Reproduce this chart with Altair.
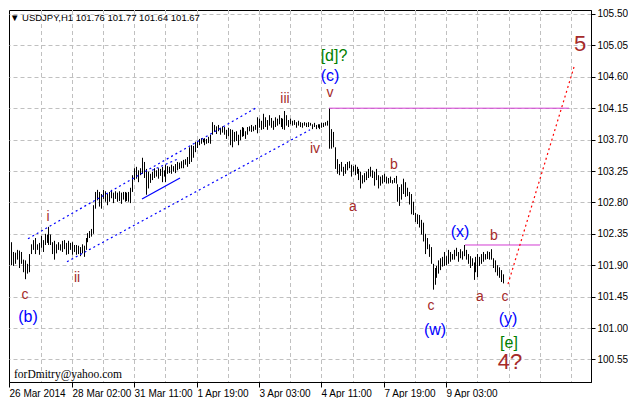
import altair as alt
import pandas as pd

# ---- hourly bars (high / low) ----
highs = [
    102.35, 102.23, 102.09, 102.08, 102.12, 102.11, 102.09, 101.98, 101.97, 101.92,
    102.06, 102.20, 102.26, 102.29, 102.20, 102.22, 102.32, 102.26, 102.35, 102.34,
    102.45, 102.34, 102.23, 102.25, 102.20, 102.23, 102.20, 102.25, 102.26, 102.22,
    102.25, 102.22, 102.23, 102.19, 102.19, 102.18, 102.16, 102.20, 102.18, 102.29,
    102.36, 102.39, 102.42, 102.76, 102.95, 102.98, 102.95, 102.92, 102.98, 102.96,
    102.92, 102.95, 102.98, 102.94, 102.96, 102.94, 102.96, 102.94, 102.95, 102.95,
    102.94, 102.95, 103.01, 103.19, 103.29, 103.31, 103.26, 103.29, 103.44, 103.38,
    103.28, 103.24, 103.21, 103.24, 103.29, 103.26, 103.29, 103.28, 103.31, 103.26,
    103.34, 103.32, 103.31, 103.34, 103.32, 103.35, 103.38, 103.37, 103.39, 103.41,
    103.42, 103.45, 103.59, 103.62, 103.61, 103.67, 103.67, 103.71, 103.72, 103.71,
    103.72, 103.71, 103.74, 103.77, 103.95, 103.91, 103.89, 103.91, 103.87, 103.89,
    103.88, 103.84, 103.87, 103.85, 103.84, 103.81, 103.82, 103.77, 103.84, 103.88,
    103.87, 103.82, 103.88, 103.89, 103.91, 103.89, 103.91, 104.02, 104.00, 103.97,
    104.07, 104.02, 103.98, 104.05, 104.01, 103.97, 104.02, 104.00, 104.05, 104.01,
    104.00, 104.11, 104.05, 103.98, 104.00, 103.97, 103.98, 103.95, 103.97, 103.95,
    103.94, 103.95, 103.94, 103.95, 103.94, 103.92, 103.94, 103.91, 103.92, 103.92,
    103.94, 103.94, 103.95, 103.97, 104.15, 103.85, 103.81, 103.59, 103.42, 103.35,
    103.38, 103.31, 103.35, 103.38, 103.39, 103.34, 103.32, 103.34, 103.31, 103.28,
    103.24, 103.19, 103.22, 103.24, 103.28, 103.31, 103.26, 103.24, 103.28, 103.19,
    103.17, 103.19, 103.21, 103.17, 103.15, 103.17, 103.12, 103.15, 103.18, 103.06,
    103.02, 103.06, 103.14, 103.09, 103.01, 102.95, 102.92, 102.81, 102.65, 102.63,
    102.62, 102.55, 102.51, 102.35, 102.29, 102.20, 102.16, 101.92, 101.86, 101.89,
    101.97, 102.00, 102.02, 102.09, 102.03, 102.12, 102.09, 102.06, 102.12, 102.15,
    102.09, 102.13, 102.10, 102.19, 102.12, 102.06, 102.03, 102.00, 101.94, 102.02,
    102.06, 102.02, 102.06, 102.09, 102.06, 102.10, 102.09, 102.13, 102.00, 101.97,
    101.90, 101.87, 101.83, 101.77,
]
lows = [
    101.92, 101.90, 101.89, 101.92, 101.98, 101.86, 101.92, 101.80, 101.70, 101.78,
    101.80, 102.06, 102.12, 102.06, 102.12, 102.05, 102.15, 102.09, 102.19, 102.22,
    102.19, 102.19, 102.06, 101.98, 102.07, 102.12, 102.11, 102.09, 102.13, 102.05,
    102.06, 102.12, 102.05, 102.09, 102.05, 102.06, 102.03, 102.07, 102.02, 102.12,
    102.23, 102.29, 102.31, 102.35, 102.71, 102.83, 102.74, 102.71, 102.85, 102.81,
    102.76, 102.81, 102.86, 102.79, 102.85, 102.81, 102.82, 102.78, 102.84, 102.81,
    102.82, 102.81, 102.79, 102.95, 103.12, 103.14, 103.09, 103.19, 103.21, 103.15,
    102.91, 103.00, 103.08, 103.12, 103.15, 103.17, 103.14, 103.18, 103.09, 103.17,
    103.09, 103.21, 103.22, 103.21, 103.24, 103.22, 103.26, 103.28, 103.29, 103.29,
    103.34, 103.31, 103.35, 103.38, 103.44, 103.52, 103.58, 103.62, 103.64, 103.66,
    103.62, 103.64, 103.65, 103.64, 103.77, 103.81, 103.78, 103.82, 103.77, 103.80,
    103.77, 103.71, 103.75, 103.62, 103.59, 103.67, 103.68, 103.62, 103.69, 103.74,
    103.75, 103.71, 103.77, 103.82, 103.81, 103.82, 103.84, 103.79, 103.87, 103.84,
    103.85, 103.88, 103.84, 103.90, 103.87, 103.84, 103.88, 103.90, 103.92, 103.88,
    103.85, 103.84, 103.90, 103.88, 103.92, 103.90, 103.91, 103.87, 103.90, 103.88,
    103.87, 103.90, 103.88, 103.88, 103.90, 103.85, 103.88, 103.85, 103.87, 103.85,
    103.87, 103.88, 103.90, 103.90, 103.57, 103.57, 103.59, 103.28, 103.21, 103.19,
    103.24, 103.18, 103.21, 103.26, 103.29, 103.17, 103.24, 103.19, 103.21, 103.12,
    103.00, 103.07, 103.09, 103.12, 103.15, 103.17, 103.15, 103.04, 103.12, 103.00,
    103.04, 103.07, 103.09, 103.07, 103.07, 103.08, 103.07, 103.08, 103.07, 102.81,
    102.75, 102.84, 102.92, 102.88, 102.89, 102.77, 102.63, 102.62, 102.52, 102.49,
    102.44, 102.34, 102.24, 102.06, 102.13, 102.02, 101.92, 101.55, 101.62, 101.72,
    101.78, 101.83, 101.88, 101.89, 101.90, 101.92, 101.95, 101.98, 101.98, 102.03,
    101.95, 102.00, 101.98, 102.03, 101.98, 101.92, 101.86, 101.89, 101.69, 101.80,
    101.73, 101.89, 101.92, 101.95, 101.98, 101.99, 101.98, 101.98, 101.86, 101.80,
    101.75, 101.72, 101.66, 101.64,
]

# ---- axes ----
tick_pos = [0, 32, 64, 96, 128, 160, 192, 224]
tick_labels = ["26 Mar 2014", "28 Mar 02:00", "31 Mar 11:00", "1 Apr 19:00",
               "3 Apr 03:00", "4 Apr 11:00", "7 Apr 19:00", "9 Apr 03:00"]
price_ticks = [100.55, 101.00, 101.45, 101.90, 102.35, 102.80, 103.25,
               103.70, 104.15, 104.60, 105.05, 105.50]
grid_x = [16, 32, 48, 64, 80, 96, 112, 128, 144, 160, 176, 192, 208, 224,
          240, 256, 272, 288]

# ---- drawn lines (bar index, price) ----
chan_x1 = [9.75, 29.75]
chan_y1 = [102.28, 101.95]
chan_x2 = [127.25, 154.25]
chan_y2 = [104.17, 103.84]
small_dot_x1, small_dot_y1, small_dot_x2, small_dot_y2 = [72.9], [103.26], [86.9], [103.43]
small_sol_x1, small_sol_y1, small_sol_x2, small_sol_y2 = [67.9], [102.85], [87.4], [103.15]
hline_x1 = [164, 233.5]
hline_x2 = [286.75, 272.25]
hline_y = [104.15, 102.19]
proj_x1, proj_y1, proj_x2, proj_y2 = [255.75], [101.63], [289.75], [104.74]

# ---- wave labels (bar index, price) ----
brown_text = ["c", "i", "ii", "iii", "iv", "v", "a", "b", "c", "a", "b", "c"]
brown_i = [7.75, 19.75, 34.75, 141.25, 156.75, 164.25, 176.25, 197.25, 216.25, 241.25, 248.25, 254.25]
brown_p = [101.47, 102.59, 101.72, 104.28, 103.57, 104.37, 102.73, 103.34, 101.32, 101.45, 102.32, 101.45]
blue_text = ["(b)", "(c)", "(w)", "(x)", "(y)"]
blue_i = [9.75, 164.25, 218.25, 231.25, 255.75]
blue_p = [101.16, 104.61, 100.97, 102.38, 101.13]
green_text = ["[d]?", "[e]"]
green_i = [166.25, 256.25]
green_p = [104.90, 100.79]
big_text = ["4?", "5"]
big_i = [256.75, 292.75]
big_p = [100.51, 105.07]

W, H = 582, 372
FONT = "Liberation Sans"

label_expr = "".join(
    f"datum.value == {p} ? '{t}' : " for p, t in zip(tick_pos, tick_labels)
) + "''"

xscale = alt.Scale(domain=[-0.25, 298.25], nice=False, zero=False, round=True)
yscale = alt.Scale(domain=[100.227, 105.557], nice=False, zero=False)
xaxis = alt.Axis(values=tick_pos, labelExpr=label_expr, grid=False, tickSize=5,
                 tickColor="black", domainColor="black", labelAlign="left",
                 labelPadding=1, labelFont=FONT, labelFontSize=10, labelColor="black",
                 labelFlush=False, labelOverlap=False, labelBound=False, title=None)
yaxis = alt.Axis(orient="right", values=price_ticks, format=".2f", grid=True,
                 gridDash=[4, 3], gridColor="#C0C0C0", gridOpacity=1, tickSize=4,
                 tickColor="black", domainColor="black", labelPadding=2,
                 labelFont=FONT, labelFontSize=10, labelColor="black",
                 labelFlush=False, labelOverlap=False, title=None)


def X(f):
    return alt.X(f, type="quantitative", scale=xscale, axis=xaxis, title=None)


def Y(f):
    return alt.Y(f, type="quantitative", scale=yscale, axis=yaxis, title=None)


bars_df = pd.DataFrame({"i": list(range(len(highs))), "high": highs, "low": lows})

grid_layer = alt.Chart(pd.DataFrame({"gx": grid_x})).mark_rule(
    color="#C0C0C0", strokeDash=[4, 3], strokeWidth=1, xOffset=0.5
).encode(x=X("gx"), y=alt.value(0), y2=alt.value(H))

bars = alt.Chart(bars_df).mark_rule(
    color="black", strokeWidth=1, xOffset=0.5, strokeCap="butt"
).encode(x=X("i"), y=Y("low"), y2="high")


def seg(x1, y1, x2, y2, **style):
    df = pd.DataFrame({"x1": x1, "y1": y1, "x2": x2, "y2": y2})
    return alt.Chart(df).mark_rule(**style).encode(
        x=X("x1"), y=Y("y1"), x2="x2", y2="y2"
    )


chan = seg(chan_x1, chan_y1, chan_x2, chan_y2, color="#0000FF", strokeDash=[2, 3], strokeWidth=1.2)
small_dot = seg(small_dot_x1, small_dot_y1, small_dot_x2, small_dot_y2,
                color="#0000FF", strokeDash=[2, 3], strokeWidth=1.2)
small_sol = seg(small_sol_x1, small_sol_y1, small_sol_x2, small_sol_y2,
                color="#0000FF", strokeWidth=1.2)
hlines = seg(hline_x1, hline_y, hline_x2, hline_y, color="#D23CD2", strokeWidth=1)
proj = seg(proj_x1, proj_y1, proj_x2, proj_y2, color="#FF0000", strokeDash=[2, 3], strokeWidth=1.2)


def labels(texts, xs, ys, color, size):
    df = pd.DataFrame({"t": texts, "lx": xs, "ly": ys})
    return alt.Chart(df).mark_text(
        color=color, fontSize=size, font=FONT, align="center", baseline="middle"
    ).encode(x=X("lx"), y=Y("ly"), text="t:N")


brown = labels(brown_text, brown_i, brown_p, "#A52A2A", 14)
blue = labels(blue_text, blue_i, blue_p, "#0000FF", 16)
green = labels(green_text, green_i, green_p, "#008000", 16)
big = labels(big_text, big_i, big_p, "#A52A2A", 22)

title = alt.Chart(pd.DataFrame({"t": ["\u25bc USDJPY,H1  101.76 101.77 101.64 101.67"]})).mark_text(
    font=FONT, fontSize=9.5, color="black", align="left", baseline="middle"
).encode(x=alt.value(1), y=alt.value(8), text="t:N")

mark_sig = alt.Chart(pd.DataFrame({"t": ["forDmitry@yahoo.com"]})).mark_text(
    font="Liberation Serif", fontSize=11.5, color="black", align="left", baseline="middle"
).encode(x=alt.value(5), y=alt.value(365), text="t:N")

chart = alt.layer(
    grid_layer, bars, chan, small_dot, small_sol, hlines, proj,
    brown, blue, green, big, title, mark_sig
).properties(width=W, height=H, padding=0).configure_view(
    stroke="black", strokeWidth=1
)

chart.save("out.html", embed_options={"renderer": "svg", "actions": False})
